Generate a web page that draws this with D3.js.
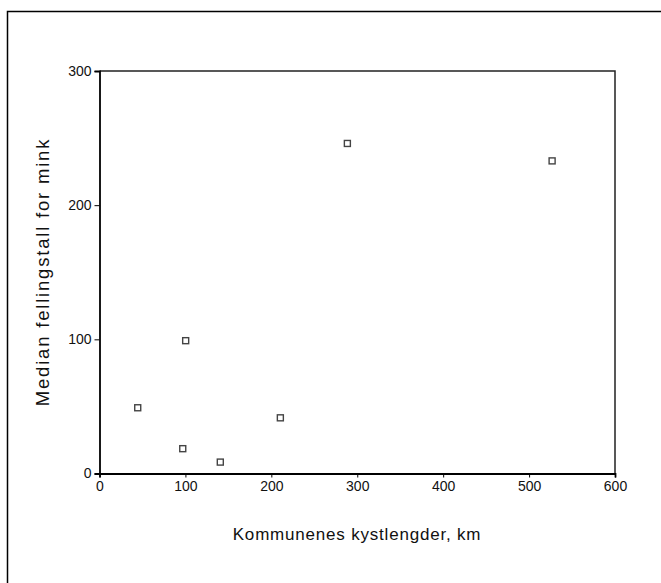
<!DOCTYPE html>
<html>
<head>
<meta charset="utf-8">
<script src="https://cdn.jsdelivr.net/npm/d3@7"></script>
<style>
  body { margin: 0; background: #fff; }
  svg { display: block; font-family: "Liberation Sans", Arial, sans-serif; }
</style>
</head>
<body>
<svg id="chart" width="661" height="583"></svg>
<script>
// coastline length (km) vs median mink cull
const kystlengde = [44.5, 100.3, 96.9, 140.6, 210.5, 288.5, 526.8];
const fellingstall = [49, 99, 18.5, 8.5, 41.5, 246, 233];
const xTicks = [0, 100, 200, 300, 400, 500, 600];
const yTicks = [0, 100, 200, 300];

(function () {
    let svg = d3.select('#chart'),
        margin = { top: 71, right: 46, bottom: 109.5, left: 99.5 },
        width = 661 - margin.left - margin.right,
        height = 583 - margin.top - margin.bottom,
        g = svg.append('g').attr('transform', `translate(${margin.left},${margin.top})`)
    ;

    // outer frame (runs off the bottom/right edge)
    svg.append('rect')
        .attr('x', 7.5).attr('y', 11.5)
        .attr('width', 700).attr('height', 700)
        .attr('fill', 'none').attr('stroke', '#000').attr('stroke-width', 1.5);

    let x = d3.scaleLinear().domain([0, 600]).range([0, width]),
        y = d3.scaleLinear().domain([0, 300]).range([height, 0]);

    // top and right frame lines
    g.append('path')
        .attr('d', `M0,0H${width}V${height}`)
        .attr('fill', 'none').attr('stroke', '#222').attr('stroke-width', 1.5);

    let xAxis = g.append('g')
        .attr('transform', `translate(0,${height})`)
        .call(d3.axisBottom(x).tickValues(xTicks).tickSize(4).tickPadding(4));

    let yAxis = g.append('g')
        .call(d3.axisLeft(y).tickValues(yTicks).tickSize(5).tickPadding(3));

    [xAxis, yAxis].forEach(a => {
        a.attr('font-size', null).attr('font-family', null);
        a.select('.domain').attr('stroke', '#000').attr('stroke-width', 1.8);
        a.selectAll('.tick line').attr('stroke', '#000').attr('stroke-width', 1);
        a.selectAll('.tick text')
            .attr('fill', '#111')
            .style('font-size', '14px');
    });

    g.selectAll('.pt')
        .data(kystlengde.map((k, i) => ({ k: k, f: fellingstall[i] })))
        .enter().append('rect')
        .attr('class', 'pt')
        .attr('x', d => x(d.k) - 3)
        .attr('y', d => y(d.f) - 3)
        .attr('width', 6).attr('height', 6)
        .attr('fill', '#fff')
        .attr('stroke', '#444')
        .attr('stroke-width', 1.4);

    svg.append('text')
        .attr('x', 357)
        .attr('y', 540)
        .attr('text-anchor', 'middle')
        .attr('fill', '#111')
        .style('font-size', '17px')
        .style('letter-spacing', '0.8px')
        .text('Kommunenes kystlengder, km');

    svg.append('text')
        .attr('transform', `translate(49,272) rotate(-90)`)
        .attr('text-anchor', 'middle')
        .attr('fill', '#111')
        .style('font-size', '18.5px')
        .style('letter-spacing', '1.8px')
        .text('Median fellingstall for mink');
}());
</script>
</body>
</html>
